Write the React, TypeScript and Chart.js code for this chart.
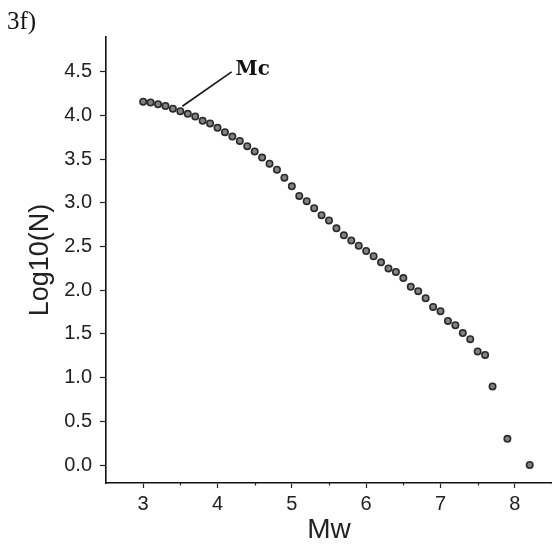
import { useEffect, useRef } from "react";
import { Chart, registerables } from "chart.js";

Chart.register(...registerables);

// Magnitude (Mw) values of the cumulative frequency-magnitude points
const MW = [
  3.0, 3.1, 3.2, 3.3, 3.4, 3.5, 3.6, 3.7, 3.8, 3.9,
  4.0, 4.1, 4.2, 4.3, 4.4, 4.5, 4.6, 4.7, 4.8, 4.9,
  5.0, 5.1, 5.2, 5.3, 5.4, 5.5, 5.6, 5.7, 5.8, 5.9,
  6.0, 6.1, 6.2, 6.3, 6.4, 6.5, 6.6, 6.7, 6.8, 6.9,
  7.0, 7.1, 7.2, 7.3, 7.4, 7.5, 7.6, 7.7, 7.9, 8.2,
];

// Log10(N) values
const LOG_N = [
  4.16, 4.15, 4.13, 4.11, 4.08, 4.05, 4.02, 3.99, 3.94, 3.91,
  3.86, 3.81, 3.76, 3.71, 3.65, 3.59, 3.52, 3.45, 3.38, 3.29,
  3.19, 3.08, 3.02, 2.94, 2.86, 2.80, 2.71, 2.63, 2.57, 2.51,
  2.45, 2.39, 2.32, 2.25, 2.21, 2.14, 2.04, 1.99, 1.91, 1.81,
  1.76, 1.65, 1.60, 1.51, 1.44, 1.30, 1.26, 0.90, 0.30, 0.00,
];

const Y_TICKS = [0, 0.5, 1, 1.5, 2, 2.5, 3, 3.5, 4, 4.5];
const X_TICKS = [3, 4, 5, 6, 7, 8];
const X_MINOR_TICKS = [3.5, 4.5, 5.5, 6.5, 7.5, 8.5];

const X_TITLE = "Mw";
const Y_TITLE = "Log10(N)";
const PANEL_LABEL = "3f)";
const MC_LABEL = "Mc";
const MC_MW = 3.5; // magnitude of completeness point
const MC_TEXT_MW = 4.19; // annotation label anchor (data space)
const MC_TEXT_LOG = 4.5;

const SANS = '"Liberation Sans", Arial, Helvetica, sans-serif';

const annotationPlugin = {
  id: "mcAnnotation",
  afterDatasetsDraw(chart: any) {
    const ctx = chart.ctx;
    const xs = chart.scales.x;
    const ys = chart.scales.y;
    const i = MW.indexOf(MC_MW);
    const px = xs.getPixelForValue(MW[i]);
    const py = ys.getPixelForValue(LOG_N[i]);
    const ex = xs.getPixelForValue(MC_TEXT_MW);
    const ey = ys.getPixelForValue(MC_TEXT_LOG);
    ctx.save();
    // minor x ticks
    ctx.strokeStyle = "#222";
    ctx.lineWidth = 1.2;
    const axisY = xs.top;
    X_MINOR_TICKS.forEach((v) => {
      const x = Math.round(xs.getPixelForValue(v)) + 0.5;
      ctx.beginPath();
      ctx.moveTo(x, axisY);
      ctx.lineTo(x, axisY + 2.5);
      ctx.stroke();
    });
    // Mc leader line and label
    ctx.strokeStyle = "#151515";
    ctx.lineWidth = 1.6;
    ctx.beginPath();
    ctx.moveTo(px + 2, py - 5);
    ctx.lineTo(ex, ey);
    ctx.stroke();
    ctx.fillStyle = "#111";
    ctx.textBaseline = "alphabetic";
    ctx.textAlign = "left";
    ctx.font = 'bold 20px "DejaVu Serif", serif';
    ctx.fillText(MC_LABEL, ex + 4, ey + 3.5);
    ctx.font = '25px "Liberation Serif", "Times New Roman", serif';
    ctx.fillText(PANEL_LABEL, 7, 29);
    ctx.restore();
  },
};

export default function App() {
  const ref = useRef<HTMLCanvasElement | null>(null);

  useEffect(() => {
    if (!ref.current) return;
    const chart = new Chart(ref.current, {
      type: "scatter",
      data: {
        datasets: [
          {
            data: MW.map((x, i) => ({ x, y: LOG_N[i] })),
            pointRadius: 3.2,
            pointBackgroundColor: "#828282",
            pointBorderColor: "#2a2a2a",
            pointBorderWidth: 1.6,
            pointHoverRadius: 3.2,
          },
        ],
      },
      options: {
        responsive: false,
        animation: false,
        events: [],
        layout: { autoPadding: false, padding: { top: 37, left: 0, right: 0, bottom: 0 } },
        plugins: {
          legend: { display: false },
          tooltip: { enabled: false },
          title: { display: false },
        },
        scales: {
          x: {
            type: "linear",
            min: 2.5,
            max: 8.5,
            afterFit: (s: any) => {
              s.height = 61;
            },
            afterBuildTicks: (s: any) => {
              s.ticks = X_TICKS.map((v) => ({ value: v }));
            },
            ticks: {
              autoSkip: false,
              maxRotation: 0,
              padding: 4,
              color: "#222",
              font: { family: SANS, size: 20 },
              callback: (v: any) => String(v),
            },
            grid: {
              display: true,
              drawOnChartArea: false,
              drawTicks: true,
              tickLength: 5,
              tickColor: "#222",
              tickWidth: 1.2,
            },
            border: { display: true, color: "#111", width: 1.6 },
            title: {
              display: true,
              text: X_TITLE,
              color: "#222",
              font: { family: SANS, size: 28, lineHeight: 1 },
              padding: { top: 0, bottom: 0 },
            },
          },
          y: {
            type: "linear",
            min: -0.206,
            max: 4.9,
            afterFit: (s: any) => {
              s.width = 106;
            },
            afterBuildTicks: (s: any) => {
              s.ticks = Y_TICKS.map((v) => ({ value: v }));
            },
            ticks: {
              autoSkip: false,
              padding: 8,
              color: "#222",
              font: { family: SANS, size: 20 },
              callback: (v: any) => Number(v).toFixed(1),
            },
            grid: {
              display: true,
              drawOnChartArea: false,
              drawTicks: true,
              tickLength: 6,
              tickColor: "#222",
              tickWidth: 1.2,
            },
            border: { display: true, color: "#111", width: 1.6 },
            title: {
              display: true,
              text: Y_TITLE,
              color: "#222",
              font: { family: SANS, size: 27, lineHeight: 1 },
              padding: { top: 27.5, bottom: 0 },
            },
          },
        },
      },
      plugins: [annotationPlugin],
    });
    return () => chart.destroy();
  }, []);

  return (
    <div style={{ position: "absolute", left: 0, top: 0, width: 552, height: 544, background: "#fff" }}>
      <canvas ref={ref} width={552} height={544} style={{ display: "block" }} />
    </div>
  );
}
